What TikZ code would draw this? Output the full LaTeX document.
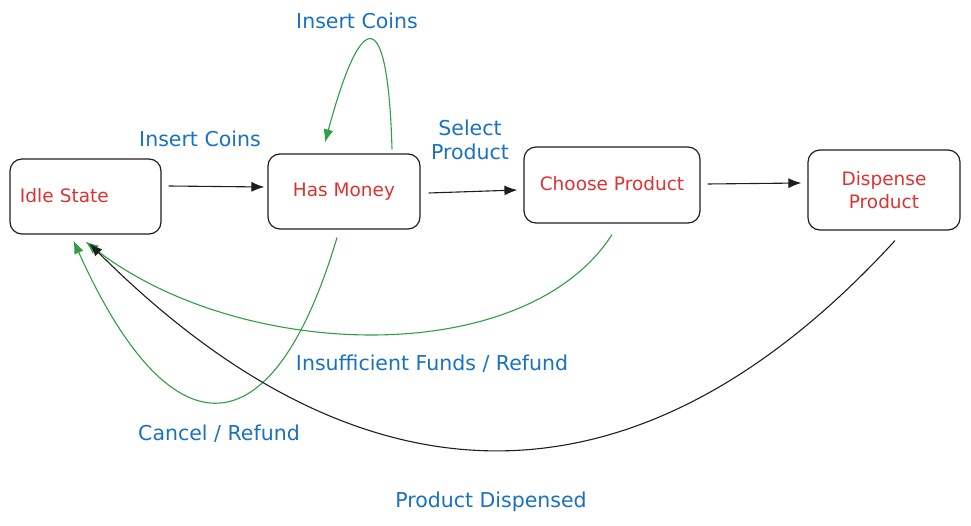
\documentclass[tikz,border=0pt]{standalone}
\usepackage{fontspec}
\setmainfont{DejaVu Sans}
\usetikzlibrary{arrows.meta,calc}
\definecolor{exred}{HTML}{E03131}
\definecolor{exblue}{HTML}{1971C2}
\definecolor{exgreen}{HTML}{2F9E44}
\definecolor{exblack}{HTML}{1E1E1E}
\tikzset{
  statebox/.style={draw=exblack, line width=1.2pt, rounded corners=12pt, text=exred, font=\fontsize{18.5}{23}\selectfont, align=center, inner sep=0pt},
  lbl/.style={text=exblue, font=\fontsize{20.5}{24}\selectfont, align=center, inner sep=0pt},
  flow/.style={draw=exblack, line width=1.1pt, -{Latex[length=13pt,width=10pt]}},
  back/.style={draw=exgreen, line width=1.1pt, -{Latex[length=13pt,width=10pt]}},
  backk/.style={draw=exblack, line width=1.1pt, -{Latex[length=13pt,width=10pt]}}
}
\begin{document}
\begin{tikzpicture}[x=1pt,y=-1pt]
\useasboundingbox (0,0) rectangle (971,526);
% states
\node[statebox, minimum width=151pt, minimum height=75pt, text width=139pt, align=left] (idle) at (85.5,196.5) {\hspace*{4pt}\raisebox{3pt}{Idle State}};
\node[statebox, minimum width=152pt, minimum height=75pt] (has) at (344,191.5) {Has Money};
\node[statebox, minimum width=176pt, minimum height=76pt] (choose) at (612,185) {\raisebox{3pt}{Choose Product}};
\node[statebox, minimum width=152pt, minimum height=80pt] (disp) at (884,190) {Dispense\\Product};
% labels
\node[lbl] (l1) at (357,21) {Insert Coins};
\node[lbl] (l2) at (200,139) {Insert Coins};
\node[lbl] (l3) at (470,140) {Select\\Product};
\node[lbl] (l4) at (432,364) {Insufficient Funds / Refund};
\node[lbl] (l5) at (219,434) {Cancel / Refund};
\node[lbl] (l6) at (491,502) {Product Dispensed};
% forward transitions
\draw[flow] ($(idle.east)+(7,-10.5)$) -- ($(has.west)+(-3,-4.5)$);
\draw[flow] ($(has.east)+(8,1.5)$) -- ($(choose.west)+(-6,5)$);
\draw[flow] ($(choose.east)+(7,-1)$) -- ($(disp.west)+(-6,-7)$);
% self loop
\draw[back] ($(has.north)+(48,-4)$) .. controls (388,5) and (362,5) .. ($(has.north)+(-19,-11)$);
% returns
\draw[back] ($(has.south)+(-7,8)$) .. controls (272,456) and (170,456) .. ($(idle.south)+(-12,6)$);
\draw[back] ($(choose.south)+(0,11)$) .. controls (525,370) and (240,362) .. ($(idle.south)+(0,7)$);
\draw[backk] ($(disp.south)+(11,10)$) .. controls (640,519) and (365,519) .. ($(idle.south)+(4,9)$);
\end{tikzpicture}
\end{document}
